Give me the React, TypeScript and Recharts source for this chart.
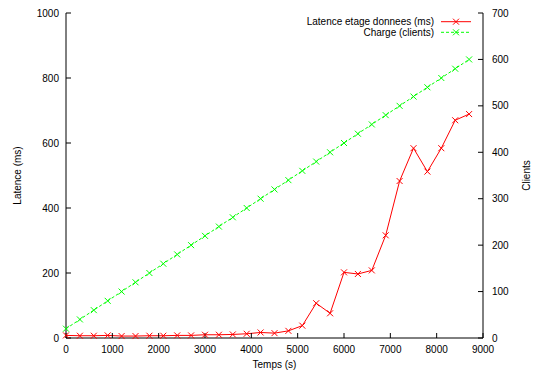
import React from 'react';
import { ComposedChart, Line, XAxis, YAxis, Legend } from 'recharts';

const times = [0, 300, 600, 900, 1200, 1500, 1800, 2100, 2400, 2700, 3000, 3300, 3600, 3900, 4200, 4500, 4800, 5100, 5400, 5700, 6000, 6300, 6600, 6900, 7200, 7500, 7800, 8100, 8400, 8700];
const latency = [8, 7, 7, 8, 6, 6, 7, 7, 8, 8, 10, 10, 11, 13, 17, 15, 22, 38, 107, 76, 202, 197, 208, 316, 483, 584, 512, 584, 670, 689];
const clients = [20, 40, 60, 80, 100, 120, 140, 160, 180, 200, 220, 240, 260, 280, 300, 320, 340, 360, 380, 400, 420, 440, 460, 480, 500, 520, 540, 560, 580, 600];

const xTicks = [0, 1000, 2000, 3000, 4000, 5000, 6000, 7000, 8000, 9000];
const leftTicks = [0, 200, 400, 600, 800, 1000];
const rightTicks = [0, 100, 200, 300, 400, 500, 600, 700];
const seriesOrder = ['latency', 'clients'];

const data = times.map((t, i) => ({ t, latency: latency[i], clients: clients[i] }));

const FONT = '"Liberation Sans", Arial, Helvetica, sans-serif';
const RED = '#ff0000';
const GREEN = '#00ff00';

const Cross = (color: string) => (props: any) => {
  const { cx, cy, index } = props;
  if (cx == null || cy == null) return <g key={index} />;
  const s = 3;
  return (
    <path
      key={index}
      d={`M${cx - s},${cy - s}L${cx + s},${cy + s}M${cx - s},${cy + s}L${cx + s},${cy - s}`}
      stroke={color}
      strokeWidth={1}
      fill="none"
    />
  );
};

const LegendContent = (props: any) => {
  const { payload } = props;
  const items = [...(payload || [])].sort(
    (a: any, b: any) => seriesOrder.indexOf(a.dataKey) - seriesOrder.indexOf(b.dataKey)
  );
  return (
    <svg width={536} height={40} style={{ display: 'block' }}>
      {items.map((it: any, i: number) => {
        const y = 21.7 + i * 10.6;
        const dashed = it.payload && it.payload.strokeDasharray;
        return (
          <g key={i}>
            <text x={434} y={y} textAnchor="end" dominantBaseline="central" fontSize={10} fontFamily={FONT} fill="#000">
              {it.value}
            </text>
            <line x1={441} x2={471} y1={y} y2={y} stroke={it.color} strokeWidth={1} strokeDasharray={dashed || undefined} />
            <path d={`M${453},${y - 3}L${459},${y + 3}M${453},${y + 3}L${459},${y - 3}`} stroke={it.color} strokeWidth={1} />
          </g>
        );
      })}
    </svg>
  );
};

export default function App() {
  const tickStyle = { fontSize: 10, fill: '#000', fontFamily: FONT };
  return (
    <div style={{ position: 'absolute', left: 0, top: 0, background: '#fff' }}>
      <ComposedChart width={536} height={373} data={data} margin={{ top: 13, right: 0, bottom: 0, left: 0 }}>
        <XAxis
          dataKey="t"
          type="number"
          domain={[0, 9000]}
          ticks={xTicks}
          height={35}
          tickSize={-5}
          tickMargin={13}
          tick={tickStyle}
          stroke="#000"
          tickLine={{ stroke: '#000' }}
          axisLine={{ stroke: '#000' }}
          interval={0}
          label={{
            content: (p: any) => {
              const vb = p.viewBox || { x: 66, y: 338, width: 417, height: 35 };
              return (
                <text x={vb.x + vb.width / 2} y={vb.y + 26} textAnchor="middle" dominantBaseline="central" fontSize={10} fontFamily={FONT} fill="#000">
                  Temps (s)
                </text>
              );
            },
          }}
        />
        <XAxis
          xAxisId="top"
          dataKey="t"
          type="number"
          orientation="top"
          domain={[0, 9000]}
          ticks={xTicks}
          height={0}
          tickSize={-5}
          tick={false}
          stroke="#000"
          tickLine={{ stroke: '#000' }}
          axisLine={{ stroke: '#000' }}
          interval={0}
        />
        <YAxis
          yAxisId="left"
          domain={[0, 1000]}
          ticks={leftTicks}
          width={66}
          tickSize={-5}
          tickMargin={12}
          tick={tickStyle}
          stroke="#000"
          tickLine={{ stroke: '#000' }}
          axisLine={{ stroke: '#000' }}
          interval={0}
          label={{
            content: (p: any) => {
              const vb = p.viewBox || { x: 0, y: 13, width: 66, height: 325 };
              const cx = vb.x + 17;
              const cy = vb.y + vb.height / 2;
              return (
                <text x={cx} y={cy} transform={`rotate(-90 ${cx} ${cy})`} textAnchor="middle" dominantBaseline="central" fontSize={10} fontFamily={FONT} fill="#000">
                  Latence (ms)
                </text>
              );
            },
          }}
        />
        <YAxis
          yAxisId="right"
          orientation="right"
          domain={[0, 700]}
          ticks={rightTicks}
          width={53}
          tickSize={-5}
          tickMargin={14}
          tick={tickStyle}
          stroke="#000"
          tickLine={{ stroke: '#000' }}
          axisLine={{ stroke: '#000' }}
          interval={0}
          label={{
            content: (p: any) => {
              const vb = p.viewBox || { x: 483, y: 13, width: 53, height: 325 };
              const cx = vb.x + 43;
              const cy = vb.y + vb.height / 2;
              return (
                <text x={cx} y={cy} transform={`rotate(-90 ${cx} ${cy})`} textAnchor="middle" dominantBaseline="central" fontSize={10} fontFamily={FONT} fill="#000">
                  Clients
                </text>
              );
            },
          }}
        />
        <Legend
          layout="vertical"
          align="center"
          verticalAlign="middle"
          content={LegendContent}
          wrapperStyle={{ position: 'absolute', left: 0, top: 0, width: 536, height: 40, margin: 0, padding: 0 }}
        />
        <Line
          yAxisId="left"
          dataKey="latency"
          name="Latence etage donnees (ms)"
          stroke={RED}
          strokeWidth={1}
          dot={Cross(RED)}
          activeDot={false}
          isAnimationActive={false}
        />
        <Line
          yAxisId="right"
          dataKey="clients"
          name="Charge (clients)"
          stroke={GREEN}
          strokeWidth={1}
          strokeDasharray="3 2"
          dot={Cross(GREEN)}
          activeDot={false}
          isAnimationActive={false}
        />
      </ComposedChart>
    </div>
  );
}
